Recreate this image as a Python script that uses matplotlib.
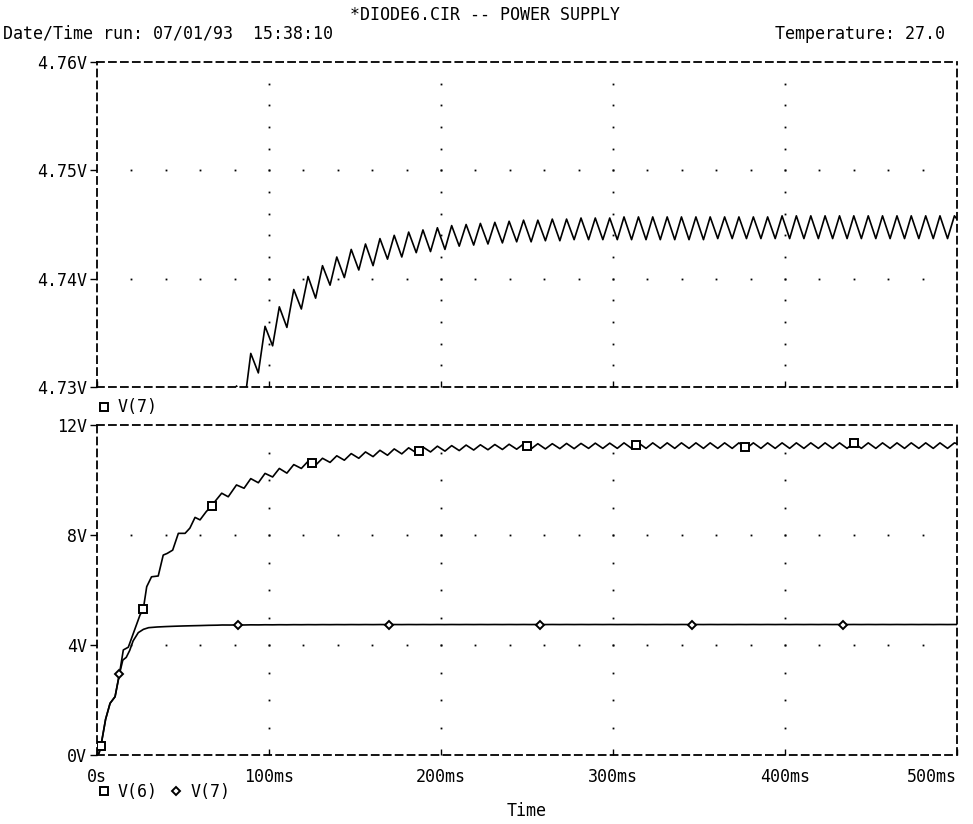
import numpy as np
import matplotlib
matplotlib.use("Agg")
import matplotlib.pyplot as plt
from matplotlib.lines import Line2D

plt.rcParams['font.family'] = ['DejaVu Sans Mono']
plt.rcParams['lines.scale_dashes'] = False

# ---------------- simulation traces (time in ms, volts) ----------------
# start-up portion of V(7) (regulated output)
v7_early_t = [0, 1.2, 2.3, 5.0, 7.6, 10.5, 13.0, 15.0, 17.0, 19.0, 21.0, 24.0,
              27.0, 30.0, 35.0, 40.0, 45.0, 50.0, 55.0, 60.0, 65.0, 70.0, 72.7, 77.2]
v7_early_v = [0, 0.07, 0.34, 1.30, 1.88, 2.12, 2.93, 3.45, 3.55, 3.80, 4.15, 4.45,
              4.57, 4.63, 4.655, 4.670, 4.682, 4.692, 4.700, 4.707, 4.716, 4.721, 4.7275, 4.7262]

# start-up portion of V(6) (filter capacitor)
v6_early_t = [0, 1.2, 2.3, 5.0, 7.6, 10.5, 13.0, 15.3, 18.2, 21.0, 25.0, 26.9, 28.9, 31.7,
              35.6, 38.5, 40.8, 44.0, 47.3, 51.2, 54.0, 57.0, 59.9, 63.5, 66.6, 69.0, 72.5, 76.3]
v6_early_v = [0, 0.07, 0.34, 1.30, 1.88, 2.12, 2.93, 3.82, 3.92, 4.40, 5.09, 5.30, 6.12, 6.48,
              6.51, 7.27, 7.33, 7.45, 8.06, 8.06, 8.25, 8.64, 8.55, 8.85, 9.05, 9.25, 9.52, 9.39]

# ripple crests and valleys after start-up
ripple_peak_t = [81.1, 89.4, 97.7, 106.0, 114.4, 122.7, 131.1, 139.4, 147.8, 156.1,
                 164.5, 172.8, 181.2, 189.5, 197.9, 206.2, 214.6, 222.9, 231.3, 239.6,
                 248.0, 256.3, 264.7, 273.0, 281.4, 289.7, 298.1, 306.4, 314.8, 323.1,
                 331.5, 339.8, 348.2, 356.5, 364.9, 373.2, 381.6, 389.9, 398.3, 406.6,
                 415.0, 423.3, 431.7, 440.0, 448.4, 456.7, 465.1, 473.4, 481.8, 490.1,
                 498.5]
ripple_trough_t = [85.5, 93.8, 102.1, 110.4, 118.8, 127.1, 135.5, 143.8, 152.2, 160.5,
                   168.9, 177.2, 185.6, 193.9, 202.3, 210.6, 219.0, 227.3, 235.7, 244.0,
                   252.4, 260.7, 269.1, 277.4, 285.8, 294.1, 302.5, 310.8, 319.2, 327.5,
                   335.9, 344.2, 352.6, 360.9, 369.3, 377.6, 386.0, 394.3, 402.7, 411.0,
                   419.4, 427.7, 436.1, 444.4, 452.8, 461.1, 469.5, 477.8, 486.2, 494.5]

v7_peak = [4.7301, 4.7331, 4.7356, 4.7374, 4.7390, 4.7402, 4.7412, 4.7420, 4.7427, 4.7432,
           4.7437, 4.7440, 4.7443, 4.7445, 4.7447, 4.7449, 4.7450, 4.7451, 4.7452, 4.7453,
           4.7454, 4.7454, 4.7455, 4.7455, 4.7456, 4.7456, 4.7456, 4.7457, 4.7457, 4.7457,
           4.7457, 4.7457, 4.7457, 4.7457, 4.7457, 4.7457, 4.7457, 4.7457, 4.7458, 4.7458,
           4.7458, 4.7458, 4.7458, 4.7458, 4.7458, 4.7458, 4.7458, 4.7458, 4.7458, 4.7458,
           4.7458]
v7_trough = [4.7282, 4.7313, 4.7338, 4.7355, 4.7372, 4.7382, 4.7394, 4.7401, 4.7408, 4.7412,
             4.7418, 4.7420, 4.7424, 4.7425, 4.7427, 4.7430, 4.7431, 4.7432, 4.7433, 4.7434,
             4.7434, 4.7435, 4.7435, 4.7436, 4.7436, 4.7436, 4.7436, 4.7436, 4.7436, 4.7436,
             4.7436, 4.7436, 4.7436, 4.7437, 4.7437, 4.7437, 4.7437, 4.7437, 4.7437, 4.7437,
             4.7437, 4.7437, 4.7437, 4.7437, 4.7437, 4.7437, 4.7437, 4.7437, 4.7437, 4.7437]

v6_peak = [9.82, 10.05, 10.24, 10.42, 10.56, 10.68, 10.79, 10.88, 10.96, 11.02,
           11.08, 11.13, 11.17, 11.20, 11.23, 11.25, 11.27, 11.28, 11.29, 11.30,
           11.31, 11.32, 11.32, 11.33, 11.33, 11.34, 11.34, 11.35, 11.35, 11.35,
           11.35, 11.35, 11.35, 11.35, 11.35, 11.35, 11.35, 11.35, 11.35, 11.35,
           11.35, 11.35, 11.35, 11.35, 11.35, 11.35, 11.35, 11.35, 11.35, 11.35,
           11.35]
v6_trough = [9.70, 9.90, 10.11, 10.25, 10.42, 10.54, 10.64, 10.72, 10.79, 10.85,
             10.90, 10.95, 10.99, 11.02, 11.05, 11.07, 11.09, 11.10, 11.11, 11.12,
             11.13, 11.13, 11.14, 11.14, 11.15, 11.15, 11.15, 11.15, 11.15, 11.15,
             11.15, 11.15, 11.15, 11.15, 11.15, 11.15, 11.15, 11.15, 11.15, 11.15,
             11.15, 11.15, 11.15, 11.15, 11.15, 11.15, 11.15, 11.15, 11.15, 11.15]

end_t = 500.0
v7_end = 4.7455
v6_end = 11.32

# symbol positions along each trace
v6_marker_t = [2.3, 26.9, 66.6, 124.8, 187.0, 250.0, 313.4, 376.9, 440.0]
v7_marker_t = [13.0, 82.0, 169.8, 257.6, 345.7, 433.9]

# axes annotation
x_ticks = [0, 100, 200, 300, 400, 500]
x_labels = ['0s', '100ms', '200ms', '300ms', '400ms', '500ms']
top_yticks = [4.73, 4.74, 4.75, 4.76]
top_ylabels = ['4.73V', '4.74V', '4.75V', '4.76V']
bot_yticks = [0, 4, 8, 12]
bot_ylabels = ['0V', '4V', '8V', '12V']


def build_trace(early_t, early_v, peaks, troughs, last_v):
    t = list(early_t)
    v = list(early_v)
    for i, tp in enumerate(ripple_peak_t):
        t.append(tp)
        v.append(peaks[i])
        if i < len(ripple_trough_t):
            t.append(ripple_trough_t[i])
            v.append(troughs[i])
    t.append(end_t)
    v.append(last_v)
    return np.array(t), np.array(v)


t7, v7 = build_trace(v7_early_t, v7_early_v, v7_peak, v7_trough, v7_end)
t6, v6 = build_trace(v6_early_t, v6_early_v, v6_peak, v6_trough, v6_end)

FS = 12
DASH = (0, (5.0, 3.6))
W, H = 973, 824

fig = plt.figure(figsize=(W / 100, H / 100), dpi=100)
ax_top = fig.add_axes([97 / W, 1 - 387 / H, 860 / W, 325 / H])
ax_bot = fig.add_axes([97 / W, 1 - 755 / H, 860 / W, 330 / H])


def style_axes(ax, yticks, ylabels, ystep):
    ax.set_xlim(x_ticks[0], x_ticks[-1])
    ax.set_ylim(yticks[0], yticks[-1])
    for sp in ax.spines.values():
        sp.set_linestyle(DASH)
        sp.set_linewidth(1.3)
        sp.set_color('black')
    ax.set_yticks(yticks)
    ax.set_yticklabels(ylabels, fontsize=FS)
    ax.set_xticks(x_ticks)
    ax.tick_params(axis='y', direction='out', length=5, width=1.0, pad=2)
    ax.tick_params(axis='x', direction='in', length=4, width=1.0, pad=9, labelsize=FS)
    # dotted grid: a row of dots on every inner y tick, a column on every inner x tick
    xs = np.arange(x_ticks[0] + 20, x_ticks[-1] - 10, 20)
    ys = np.arange(yticks[0] + ystep, yticks[-1] - ystep / 2, ystep)
    for yv in yticks[1:-1]:
        ax.plot(xs, np.full_like(xs, yv, dtype=float), ls='none', marker='s',
                ms=1.3, mew=0, color='black')
    for xv in x_ticks[1:-1]:
        ax.plot(np.full_like(ys, xv, dtype=float), ys, ls='none', marker='s',
                ms=1.3, mew=0, color='black')


style_axes(ax_top, top_yticks, top_ylabels, 0.002)
style_axes(ax_bot, bot_yticks, bot_ylabels, 1.0)
ax_top.set_xticklabels([])
ax_bot.set_xticklabels(x_labels)
ax_bot.get_xticklabels()[-1].set_horizontalalignment('right')

# traces
ax_top.plot(t7, v7, color='black', lw=1.2, solid_joinstyle='round')
ax_bot.plot(t6, v6, color='black', lw=1.2, solid_joinstyle='round')
ax_bot.plot(t7, v7, color='black', lw=1.2, solid_joinstyle='round')

sq_style = dict(ls='none', marker='s', ms=6, mfc='white', mec='black', mew=1.4)
di_style = dict(ls='none', marker='D', ms=4.5, mfc='white', mec='black', mew=1.4)
ax_bot.plot(v6_marker_t, np.interp(v6_marker_t, t6, v6), zorder=5, **sq_style)
ax_bot.plot(v7_marker_t, np.interp(v7_marker_t, t7, v7), zorder=5, **di_style)

# trace legends under each plot
leg_kw = dict(loc='upper left', frameon=False, fontsize=FS, handlelength=0.8,
              handletextpad=0.45, borderpad=0, borderaxespad=0, columnspacing=0.7,
              ncol=2)
leg_sq = Line2D([], [], ls='none', marker='s', ms=5.5, mfc='white', mec='black', mew=1.4)
leg_di = Line2D([], [], ls='none', marker='D', ms=4, mfc='white', mec='black', mew=1.4)
ax_top.legend([leg_sq], ['V(7)'], bbox_to_anchor=(0.0, -0.035), **leg_kw)
ax_bot.legend([leg_sq, leg_di], ['V(6)', 'V(7)'], bbox_to_anchor=(0.0, -0.085), **leg_kw)

ax_bot.set_xlabel('Time', fontsize=FS, labelpad=12)

# page header
fig.text(485 / W, 1 - 15 / H, '*DIODE6.CIR -- POWER SUPPLY', ha='center', va='center', fontsize=FS)
fig.text(3 / W, 1 - 34 / H, 'Date/Time run: 07/01/93  15:38:10', ha='left', va='center', fontsize=FS)
fig.text(945 / W, 1 - 34 / H, 'Temperature: 27.0', ha='right', va='center', fontsize=FS)

fig.savefig('out.png', dpi=100, facecolor='white')
